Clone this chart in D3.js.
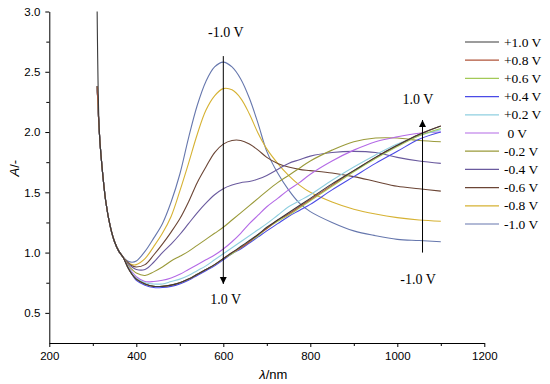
<!DOCTYPE html>
<html>
<head>
<meta charset="utf-8">
<script src="https://cdn.jsdelivr.net/npm/d3@7"></script>
<style>
  body { margin: 0; background: #fff; }
  svg { display: block; }
</style>
</head>
<body>
<div id="chart"></div>
<script>
// wavelength grid (nm)
const wavelength = [310, 315, 320, 330, 340, 350, 360, 370, 380, 390, 400, 420, 440, 460, 480, 500, 520, 540, 560, 580, 600,
                    620, 640, 660, 680, 700, 725, 750, 775, 800, 850, 900, 950, 1000, 1050, 1100];

// absorbance per potential
const seriesNames = ['+1.0 V', '+0.8 V', '+0.6 V', '+0.4 V', '+0.2 V', ' 0 V', '-0.2 V', '-0.4 V', '-0.6 V', '-0.8 V', '-1.0 V'];
const seriesColors = ['#3a3a3a', '#b0553a', '#a3c957', '#4a4ae6', '#8fcfe0', '#b46ae6', '#9a9a3a', '#6a5a9e', '#6b4535', '#d6b233', '#6677ad'];

const absP10 = [3.00, 2.00, 1.76, 1.42, 1.22, 1.09, 1.01, 0.96, 0.88, 0.82, 0.78, 0.74, 0.72, 0.72, 0.73, 0.75, 0.78, 0.82, 0.86, 0.90, 0.95, 1.00, 1.05, 1.10, 1.15, 1.21, 1.27, 1.33, 1.39, 1.45, 1.57, 1.68, 1.79, 1.89, 1.98, 2.05];
const absP08 = [2.38, 2.00, 1.76, 1.42, 1.22, 1.09, 1.01, 0.96, 0.88, 0.82, 0.78, 0.74, 0.72, 0.72, 0.73, 0.75, 0.78, 0.82, 0.86, 0.90, 0.95, 1.00, 1.04, 1.09, 1.15, 1.20, 1.27, 1.32, 1.38, 1.44, 1.56, 1.68, 1.79, 1.89, 1.98, 2.05];
const absP06 = [2.38, 2.00, 1.76, 1.42, 1.22, 1.09, 1.01, 0.96, 0.88, 0.82, 0.78, 0.74, 0.72, 0.72, 0.73, 0.75, 0.78, 0.82, 0.86, 0.90, 0.95, 0.99, 1.04, 1.09, 1.14, 1.20, 1.26, 1.31, 1.37, 1.43, 1.55, 1.67, 1.78, 1.88, 1.97, 2.03];
const absP04 = [2.38, 2.00, 1.76, 1.42, 1.22, 1.09, 1.01, 0.96, 0.88, 0.82, 0.77, 0.73, 0.71, 0.71, 0.72, 0.74, 0.77, 0.81, 0.85, 0.89, 0.94, 0.99, 1.03, 1.08, 1.13, 1.18, 1.24, 1.30, 1.35, 1.40, 1.52, 1.63, 1.74, 1.84, 1.94, 2.00];
const absP02 = [2.38, 2.00, 1.76, 1.42, 1.22, 1.09, 1.01, 0.96, 0.89, 0.83, 0.79, 0.75, 0.74, 0.74, 0.76, 0.78, 0.81, 0.85, 0.89, 0.94, 0.99, 1.04, 1.09, 1.14, 1.19, 1.24, 1.31, 1.38, 1.43, 1.48, 1.60, 1.71, 1.81, 1.90, 1.97, 2.02];
const absZero = [2.38, 2.00, 1.76, 1.42, 1.22, 1.09, 1.01, 0.96, 0.89, 0.84, 0.80, 0.76, 0.76, 0.77, 0.79, 0.82, 0.86, 0.90, 0.94, 0.98, 1.03, 1.09, 1.16, 1.24, 1.31, 1.38, 1.45, 1.52, 1.58, 1.65, 1.76, 1.85, 1.92, 1.96, 1.99, 2.00];
const absM02 = [2.38, 2.00, 1.76, 1.42, 1.22, 1.09, 1.01, 0.96, 0.90, 0.86, 0.83, 0.81, 0.84, 0.88, 0.93, 0.97, 1.01, 1.06, 1.11, 1.16, 1.21, 1.27, 1.33, 1.39, 1.45, 1.51, 1.58, 1.64, 1.70, 1.76, 1.85, 1.92, 1.95, 1.95, 1.93, 1.92];
const absM04 = [2.38, 2.00, 1.76, 1.42, 1.22, 1.09, 1.01, 0.96, 0.91, 0.88, 0.86, 0.86, 0.92, 1.00, 1.07, 1.15, 1.24, 1.33, 1.41, 1.48, 1.53, 1.56, 1.58, 1.59, 1.61, 1.64, 1.69, 1.74, 1.77, 1.80, 1.83, 1.84, 1.83, 1.79, 1.76, 1.74];
const absM06 = [2.38, 2.00, 1.76, 1.42, 1.22, 1.09, 1.01, 0.96, 0.92, 0.89, 0.88, 0.90, 0.98, 1.07, 1.17, 1.28, 1.42, 1.58, 1.71, 1.83, 1.90, 1.93, 1.93, 1.90, 1.85, 1.79, 1.74, 1.71, 1.69, 1.68, 1.66, 1.63, 1.59, 1.55, 1.53, 1.51];
const absM08 = [2.38, 2.00, 1.76, 1.42, 1.22, 1.09, 1.01, 0.96, 0.92, 0.90, 0.90, 0.95, 1.05, 1.16, 1.30, 1.51, 1.74, 1.98, 2.18, 2.30, 2.36, 2.35, 2.28, 2.15, 1.99, 1.86, 1.74, 1.64, 1.56, 1.50, 1.42, 1.36, 1.32, 1.29, 1.27, 1.26];
const absM10 = [2.38, 2.00, 1.76, 1.42, 1.22, 1.09, 1.01, 0.96, 0.93, 0.92, 0.93, 1.01, 1.12, 1.24, 1.42, 1.65, 1.95, 2.22, 2.42, 2.54, 2.58, 2.54, 2.44, 2.28, 2.07, 1.84, 1.66, 1.52, 1.41, 1.34, 1.25, 1.18, 1.14, 1.11, 1.10, 1.09];

const seriesValues = [absP10, absP08, absP06, absP04, absP02, absZero, absM02, absM04, absM06, absM08, absM10];

// axis ticks
const xMajor = [200, 400, 600, 800, 1000, 1200];
const xMinor = [300, 500, 700, 900, 1100];
const yMajor = [0.5, 1.0, 1.5, 2.0, 2.5, 3.0];
const yMinor = [0.75, 1.25, 1.75, 2.25, 2.75];

// annotation arrows (data units): arrow at wavelength x from A to A, labels placed at A values
const arrowLeft = { x: 600, from: 2.63, to: 0.74, topLabel: '-1.0 V', topAt: 2.83, bottomLabel: '1.0 V', bottomAt: 0.615 };
const arrowRight = { x: 1058, from: 1.00, to: 2.10, topLabel: '1.0 V', topAt: 2.27, bottomLabel: '-1.0 V', bottomAt: 0.78 };

document.addEventListener('DOMContentLoaded', function(){
  drawChart();
});

function drawChart(){
  const W = 550, H = 384;
  const svg = d3.select('#chart').append('svg')
                .attr('width', W)
                .attr('height', H);

  const x = d3.scaleLinear().domain([200, 1200]).range([49.3, 484.3]);
  const y = d3.scaleLinear().domain([0.25, 3.0]).range([343, 11.5]);

  // arrow head
  svg.append('defs').append('marker')
     .attr('id', 'head')
     .attr('viewBox', '0 0 10 10')
     .attr('refX', 10).attr('refY', 5)
     .attr('markerWidth', 7).attr('markerHeight', 9)
     .attr('markerUnits', 'userSpaceOnUse')
     .attr('orient', 'auto')
     .append('path')
     .attr('d', 'M0,0 L10,5 L0,10 Z')
     .attr('fill', '#000');

  // axes
  svg.append('g')
     .attr('transform', `translate(0,${y(0.25)})`)
     .call(d3.axisBottom(x).tickValues(xMajor).tickSizeInner(4).tickSizeOuter(0).tickPadding(5).tickFormat(d3.format('d')));
  svg.append('g')
     .attr('transform', `translate(0,${y(0.25)})`)
     .call(d3.axisBottom(x).tickValues(xMinor).tickSize(3).tickFormat(''))
     .select('.domain').remove();

  svg.append('g')
     .attr('transform', `translate(${x(200)},0)`)
     .call(d3.axisLeft(y).tickValues(yMajor).tickSizeInner(4).tickSizeOuter(0).tickPadding(5).tickFormat(d3.format('.1f')));
  svg.append('g')
     .attr('transform', `translate(${x(200)},0)`)
     .call(d3.axisLeft(y).tickValues(yMinor).tickSize(3).tickFormat(''))
     .select('.domain').remove();

  svg.selectAll('.tick text')
     .style('font-family', 'Liberation Sans, Arial, sans-serif')
     .style('font-size', '11.5px')
     .attr('fill', '#000');
  svg.selectAll('.domain, .tick line').attr('stroke', '#000');

  // axis titles
  svg.append('text')
     .attr('x', x(715)).attr('y', 379)
     .attr('text-anchor', 'middle')
     .style('font-family', 'Liberation Sans, Arial, sans-serif')
     .style('font-size', '13px')
     .html('<tspan font-style="italic">λ</tspan>/nm');

  svg.append('text')
     .attr('transform', `translate(19,${y(1.7)}) rotate(-90)`)
     .attr('text-anchor', 'middle')
     .style('font-family', 'Liberation Sans, Arial, sans-serif')
     .style('font-size', '13px')
     .html('<tspan font-style="italic">A</tspan>/-');

  // spectra
  const line = d3.line()
                 .x((d, i) => x(wavelength[i]))
                 .y(d => y(d))
                 .curve(d3.curveCatmullRom.alpha(0.5));

  const order = d3.range(seriesValues.length).reverse();
  svg.append('g').selectAll('path')
     .data(order).enter()
     .append('path')
       .attr('d', i => line(seriesValues[i]))
       .attr('fill', 'none')
       .attr('stroke', i => seriesColors[i])
       .attr('stroke-width', 1.1);

  // arrows with labels
  [arrowLeft, arrowRight].forEach(a => {
    svg.append('line')
       .attr('x1', x(a.x)).attr('x2', x(a.x))
       .attr('y1', y(a.from)).attr('y2', y(a.to))
       .attr('stroke', '#000').attr('stroke-width', 1)
       .attr('marker-end', 'url(#head)');
    [[a.topLabel, a.topAt], [a.bottomLabel, a.bottomAt]].forEach(([t, at]) => {
      svg.append('text')
         .attr('x', x(a.x) + (a === arrowLeft ? 2.5 : -4.5))
         .attr('y', y(at))
         .attr('dy', '0.35em')
         .attr('text-anchor', 'middle')
         .style('font-family', 'Liberation Serif, Times New Roman, serif')
         .style('font-size', '14px')
         .text(t);
    });
  });

  // legend
  const legend = svg.append('g').attr('transform', 'translate(465,42)');
  const rows = legend.selectAll('g')
     .data(seriesNames).enter()
     .append('g')
       .attr('transform', (d, i) => `translate(0,${i * 18.2})`);
  rows.append('line')
      .attr('x1', 0).attr('x2', 34)
      .attr('stroke', (d, i) => seriesColors[i])
      .attr('stroke-width', 1.2);
  rows.append('text')
      .attr('x', 39).attr('y', 4.5)
      .style('font-family', 'Liberation Serif, Times New Roman, serif')
      .style('font-size', '13.5px')
      .style('white-space', 'pre')
      .text(d => d);
}
</script>
</body>
</html>
